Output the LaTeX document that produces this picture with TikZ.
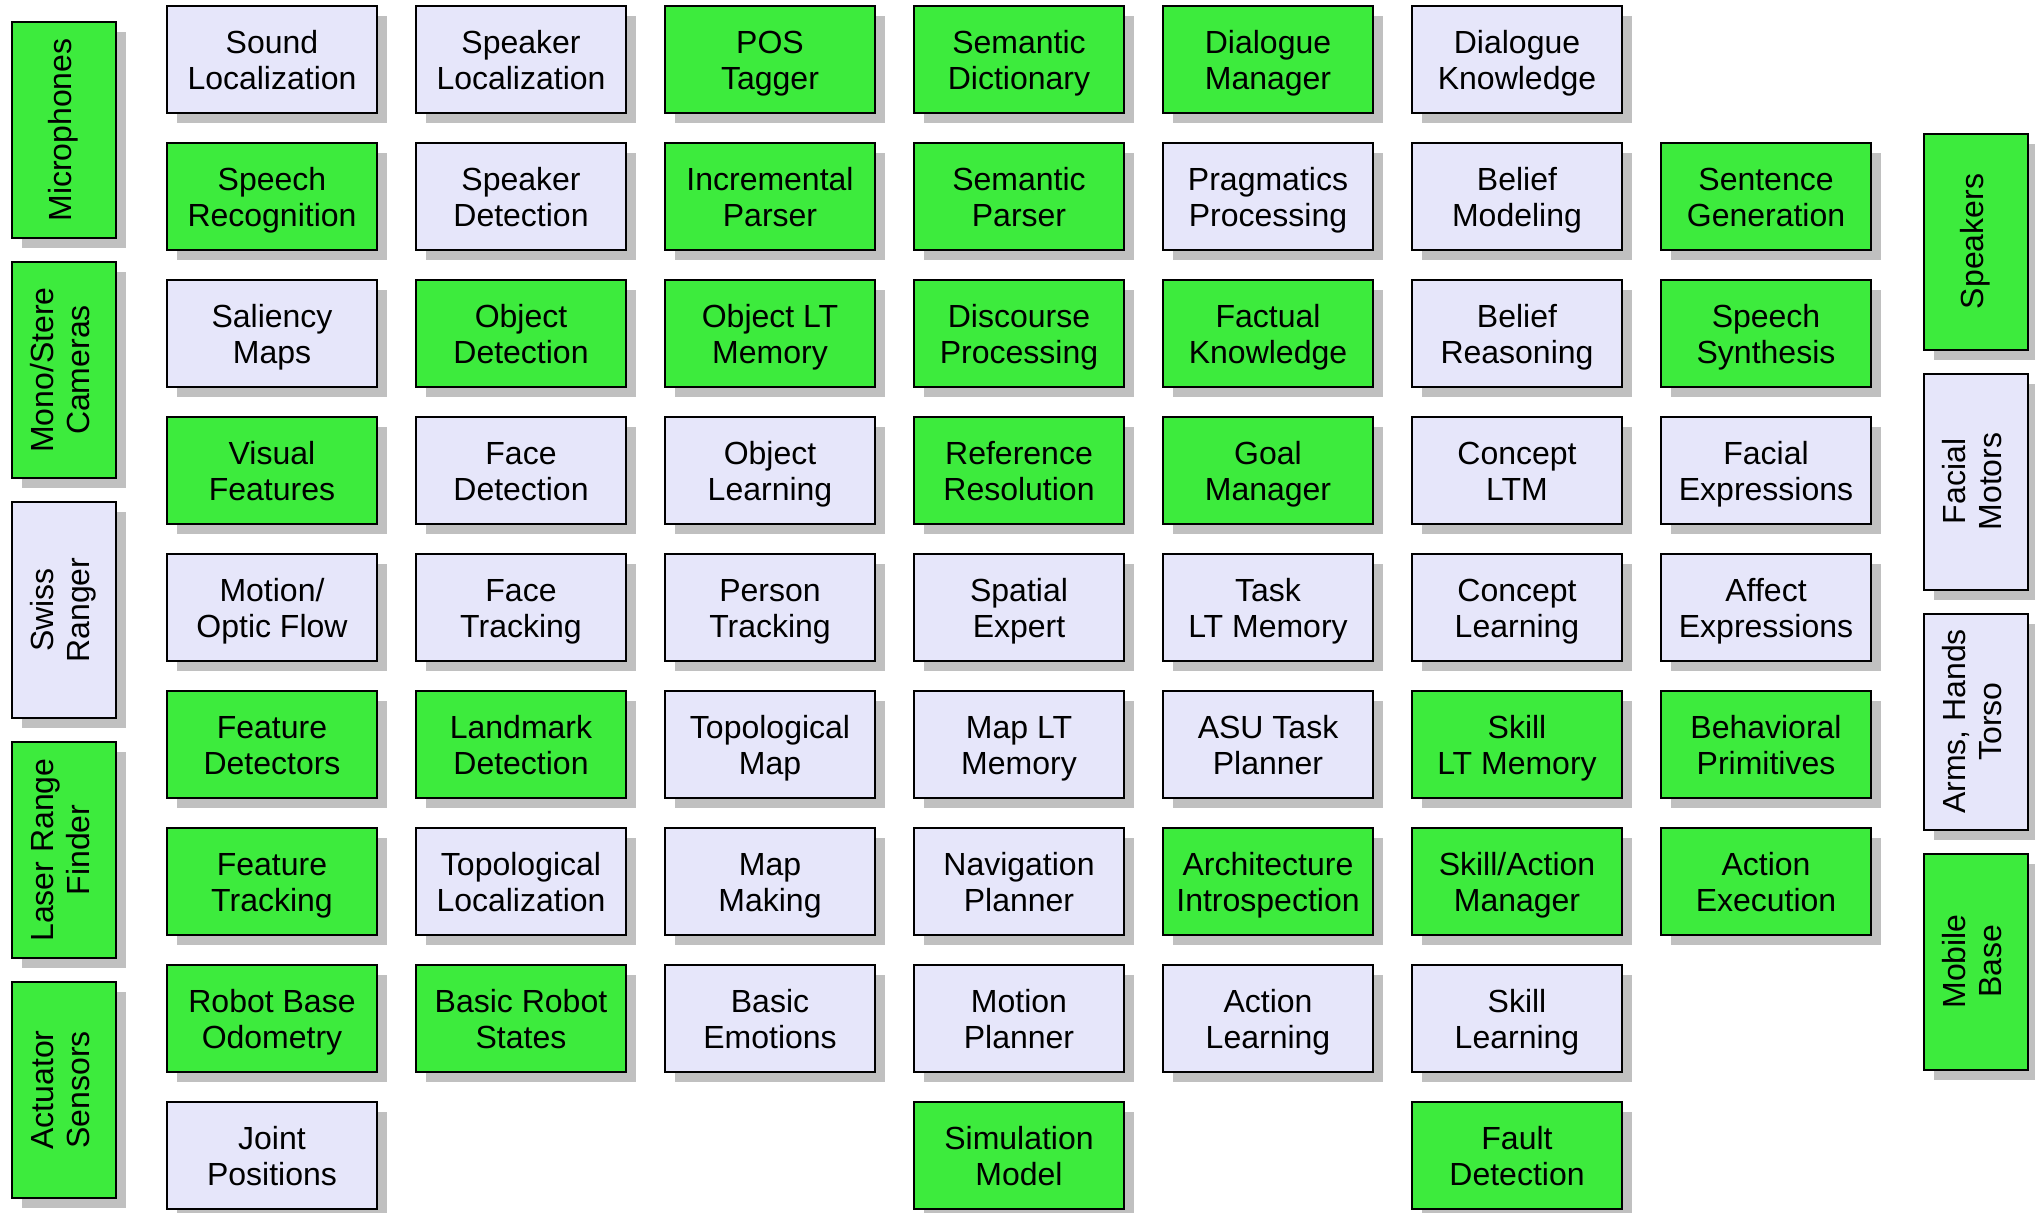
\documentclass[tikz,border=0pt]{standalone}
\usepackage{fontspec}
\setmainfont{Liberation Sans}
\usepackage{graphicx}
\usepackage{tikz}
\usetikzlibrary{positioning,shadows}

\definecolor{modgreen}{RGB}{61,235,61}
\definecolor{modlav}{RGB}{230,230,250}
\definecolor{modshade}{RGB}{192,192,192}

% two-line text of the module boxes
\newcommand{\modtext}[2]{\begin{tabular}{@{}c@{}}\rule{0pt}{17.4pt}#1\\#2\end{tabular}}
% text of the upright device boxes
\newcommand{\devtext}[1]{\rotatebox{90}{\begin{tabular}{@{}c@{}}#1\end{tabular}}}

\begin{document}
\begin{tikzpicture}[x=0.5pt, y=-0.5pt, font=\fontsize{16}{18}\selectfont, node distance=14pt and 18.5pt]
      \tikzstyle{box}=[rectangle, draw=black, line width=1pt, inner sep=0pt,
        drop shadow={shadow xshift=5pt, shadow yshift=-5pt, fill=modshade, opacity=1}]
      \tikzstyle{module}=[box, minimum width=105pt, minimum height=53.5pt]
      \tikzstyle{done}=[module, fill=modgreen]
      \tikzstyle{todo}=[module, fill=modlav]
      \tikzstyle{device}=[box, minimum width=52pt, minimum height=108pt]
      \useasboundingbox (0,0) rectangle (2035,1212);

      % sensors
      \node[device, fill=modgreen] (mics) at (64,130) {\devtext{Microphones}};
      \node[device, fill=modgreen] (cams) at (64,370) {\devtext{Mono/Stere\\Cameras}};
      \node[device, fill=modlav] (swiss) at (64,610) {\devtext{Swiss\\Ranger}};
      \node[device, fill=modgreen] (laser) at (64,850) {\devtext{Laser Range\\Finder}};
      \node[device, fill=modgreen] (actsens) at (64,1090) {\devtext{Actuator\\Sensors}};

      % actuators
      \node[device, fill=modgreen] (spkrs) at (1976,241.5) {\devtext{Speakers}};
      \node[device, fill=modlav] (facemot) at (1976,481.5) {\devtext{Facial\\Motors}};
      \node[device, fill=modlav] (arms) at (1976,721.5) {\devtext{Arms, Hands\\Torso}};
      \node[device, fill=modgreen] (mobase) at (1976,961.5) {\devtext{Mobile\\Base}};

      % row 1
      \node[todo] (sndloc) at (272,59.5) {\modtext{Sound}{Localization}};
      \node[todo] (spkloc) [right=of sndloc] {\modtext{Speaker}{Localization}};
      \node[done] (postag) [right=of spkloc] {\modtext{POS}{Tagger}};
      \node[done] (semdict) [right=of postag] {\modtext{Semantic}{Dictionary}};
      \node[done] (dlgman) [right=of semdict] {\modtext{Dialogue}{Manager}};
      \node[todo] (dlgknow) [right=of dlgman] {\modtext{Dialogue}{Knowledge}};

      % row 2
      \node[done] (speechrec) [below=of sndloc] {\modtext{Speech}{Recognition}};
      \node[todo] (spkdet) [below=of spkloc] {\modtext{Speaker}{Detection}};
      \node[done] (incparse) [below=of postag] {\modtext{Incremental}{Parser}};
      \node[done] (semparse) [below=of semdict] {\modtext{Semantic}{Parser}};
      \node[todo] (pragproc) [below=of dlgman] {\modtext{Pragmatics}{Processing}};
      \node[todo] (belmod) [below=of dlgknow] {\modtext{Belief}{Modeling}};
      \node[done] (sentgen) [right=of belmod] {\modtext{Sentence}{Generation}};

      % row 3
      \node[todo] (salmap) [below=of speechrec] {\modtext{Saliency}{Maps}};
      \node[done] (objdet) [below=of spkdet] {\modtext{Object}{Detection}};
      \node[done] (objltm) [below=of incparse] {\modtext{Object LT}{Memory}};
      \node[done] (discproc) [below=of semparse] {\modtext{Discourse}{Processing}};
      \node[done] (factknow) [below=of pragproc] {\modtext{Factual}{Knowledge}};
      \node[todo] (belreas) [below=of belmod] {\modtext{Belief}{Reasoning}};
      \node[done] (speechsyn) [below=of sentgen] {\modtext{Speech}{Synthesis}};

      % row 4
      \node[done] (visfeat) [below=of salmap] {\modtext{Visual}{Features}};
      \node[todo] (facedet) [below=of objdet] {\modtext{Face}{Detection}};
      \node[todo] (objlearn) [below=of objltm] {\modtext{Object}{Learning}};
      \node[done] (refres) [below=of discproc] {\modtext{Reference}{Resolution}};
      \node[done] (goalman) [below=of factknow] {\modtext{Goal}{Manager}};
      \node[todo] (concltm) [below=of belreas] {\modtext{Concept}{LTM}};
      \node[todo] (facexp) [below=of speechsyn] {\modtext{Facial}{Expressions}};

      % row 5
      \node[todo] (motion) [below=of visfeat] {\modtext{Motion/}{Optic Flow}};
      \node[todo] (facetrack) [below=of facedet] {\modtext{Face}{Tracking}};
      \node[todo] (perstrack) [below=of objlearn] {\modtext{Person}{Tracking}};
      \node[todo] (spatial) [below=of refres] {\modtext{Spatial}{Expert}};
      \node[todo] (taskltm) [below=of goalman] {\modtext{Task}{LT Memory}};
      \node[todo] (conclearn) [below=of concltm] {\modtext{Concept}{Learning}};
      \node[todo] (affexp) [below=of facexp] {\modtext{Affect}{Expressions}};

      % row 6
      \node[done] (featdet) [below=of motion] {\modtext{Feature}{Detectors}};
      \node[done] (landdet) [below=of facetrack] {\modtext{Landmark}{Detection}};
      \node[todo] (topomap) [below=of perstrack] {\modtext{Topological}{Map}};
      \node[todo] (mapltm) [below=of spatial] {\modtext{Map LT}{Memory}};
      \node[todo] (taskplan) [below=of taskltm] {\modtext{ASU Task}{Planner}};
      \node[done] (skillltm) [below=of conclearn] {\modtext{Skill}{LT Memory}};
      \node[done] (behprim) [below=of affexp] {\modtext{Behavioral}{Primitives}};

      % row 7
      \node[done] (feattrack) [below=of featdet] {\modtext{Feature}{Tracking}};
      \node[todo] (topoloc) [below=of landdet] {\modtext{Topological}{Localization}};
      \node[todo] (mapmake) [below=of topomap] {\modtext{Map}{Making}};
      \node[todo] (navplan) [below=of mapltm] {\modtext{Navigation}{Planner}};
      \node[done] (archintro) [below=of taskplan] {\modtext{Architecture}{Introspection}};
      \node[done] (skillman) [below=of skillltm] {\modtext{Skill/Action}{Manager}};
      \node[done] (actexec) [below=of behprim] {\modtext{Action}{Execution}};

      % row 8
      \node[done] (odom) [below=of feattrack] {\modtext{Robot Base}{Odometry}};
      \node[done] (robstates) [below=of topoloc] {\modtext{Basic Robot}{States}};
      \node[todo] (emotions) [below=of mapmake] {\modtext{Basic}{Emotions}};
      \node[todo] (motplan) [below=of navplan] {\modtext{Motion}{Planner}};
      \node[todo] (actlearn) [below=of archintro] {\modtext{Action}{Learning}};
      \node[todo] (skilllearn) [below=of skillman] {\modtext{Skill}{Learning}};

      % row 9
      \node[todo] (jointpos) [below=of odom] {\modtext{Joint}{Positions}};
      \node[done] (simmodel) [below=of motplan] {\modtext{Simulation}{Model}};
      \node[done] (faultdet) [below=of skilllearn] {\modtext{Fault}{Detection}};
    \end{tikzpicture}
\end{document}
